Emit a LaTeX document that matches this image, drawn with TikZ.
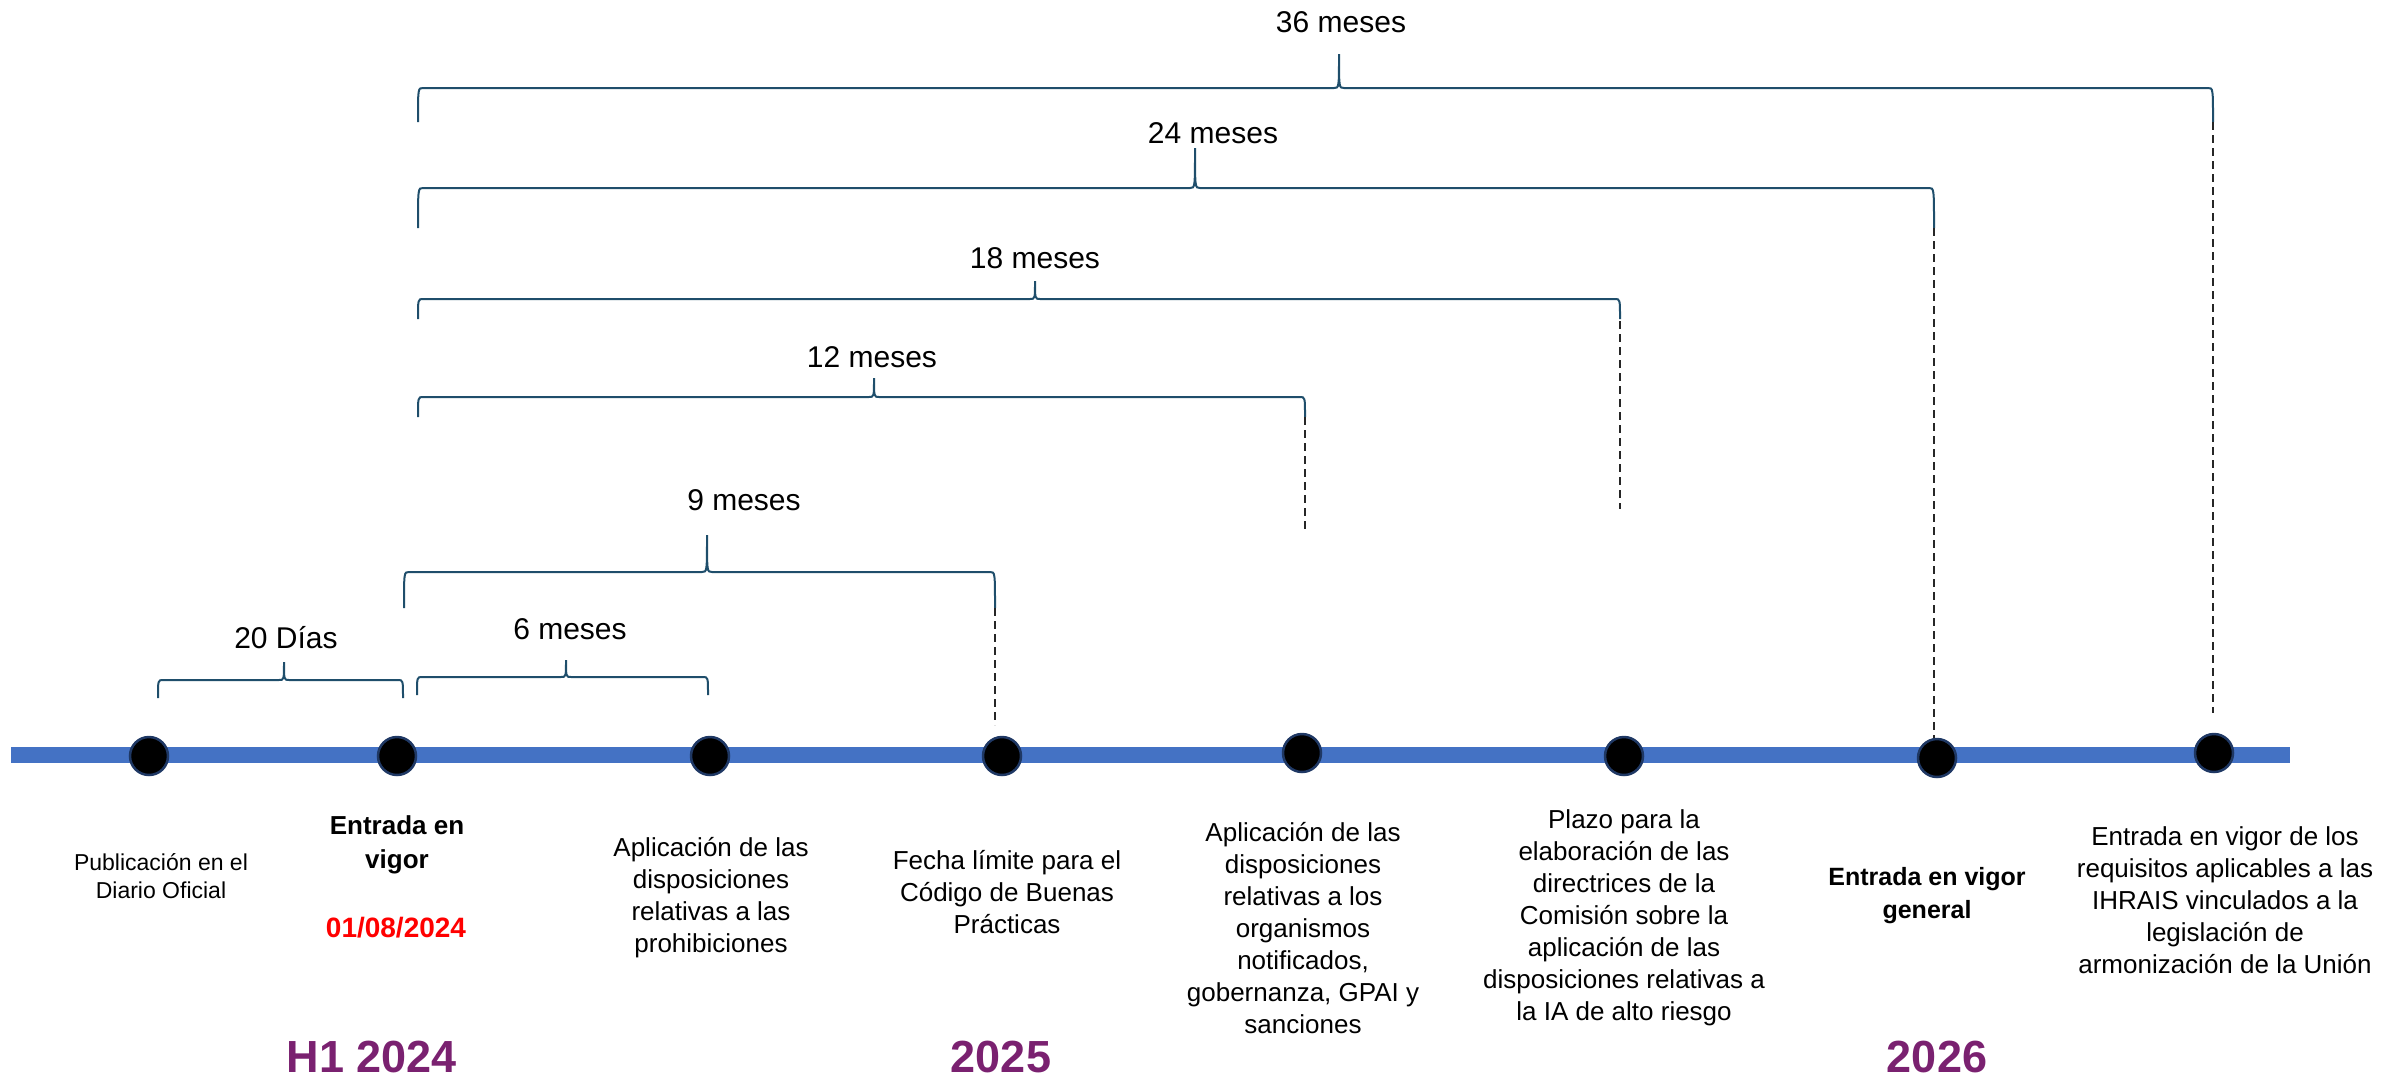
\documentclass[tikz,border=0pt]{standalone}
\usepackage{fontspec}
\setmainfont{Liberation Sans}
\definecolor{barblue}{HTML}{4472C4}
\definecolor{dotrim}{HTML}{1F3864}
\definecolor{brcol}{HTML}{1F4E6B}
\definecolor{yearpurple}{HTML}{7A2170}
\definecolor{datered}{HTML}{FF0000}
\newcommand\tlbrace[6]{% x1, x2, xtip, yh, ybottom, ytop
  \draw[brc] (#1,#5) .. controls (#1,#4) and (#1,#4) .. ({#1+5},#4) -- ({#3-5},#4)
    .. controls (#3,#4) and (#3,#4) .. (#3,#6)
    .. controls (#3,#4) and (#3,#4) .. ({#3+5},#4) -- ({#2-5},#4)
    .. controls (#2,#4) and (#2,#4) .. (#2,#5);}
\begin{document}
\begin{tikzpicture}[x=1pt,y=-1pt,
  brc/.style={draw=brcol,line width=2pt},
  dsh/.style={draw=black!85,line width=1.5pt,dash pattern=on 8pt off 5pt},
  dotnode/.style={circle,fill=black,draw=dotrim,line width=2.5pt,minimum size=38pt,inner sep=0pt},
  brlabel/.style={inner sep=0pt,font=\fontsize{30}{36}\selectfont},
  desc/.style={inner sep=0pt,align=center,font=\fontsize{26}{32}\selectfont},
  descb/.style={inner sep=0pt,align=center,font=\fontsize{26}{34}\selectfont\bfseries},
  year/.style={inner sep=0pt,text=yearpurple,font=\fontsize{45}{54}\selectfont\bfseries}]
\useasboundingbox (0,0) rectangle (2407,1080);
% timeline bar
\fill[barblue] (11,747) rectangle (2290,763);
% dots
\node[dotnode] (d1) at (149,756) {};
\node[dotnode] (d2) at (397,756) {};
\node[dotnode] (d3) at (710,756) {};
\node[dotnode] (d4) at (1002,756) {};
\node[dotnode] (d5) at (1302,753) {};
\node[dotnode] (d6) at (1624,756) {};
\node[dotnode] (d7) at (1937,758) {};
\node[dotnode] (d8) at (2214,753) {};
% braces
\tlbrace{158}{403}{284}{680}{698}{662}
\tlbrace{417}{708}{566}{677}{695}{660}
\tlbrace{404}{995}{707}{572}{608}{535}
\tlbrace{418}{1305}{874}{397}{417}{378}
\tlbrace{418}{1620}{1035}{299}{319}{281}
\tlbrace{418}{1934}{1195}{188}{228}{148}
\tlbrace{418}{2213}{1339}{88}{122}{54}
% brace labels
\node[brlabel] (l20) at (286,638) {20 Días};
\node[brlabel] (l6) at (570,629) {6 meses};
\node[brlabel] (l9) at (744,500) {9 meses};
\node[brlabel] (l12) at (872,357) {12 meses};
\node[brlabel] (l18) at (1035,258) {18 meses};
\node[brlabel] (l24) at (1213,133) {24 meses};
\node[brlabel] (l36) at (1341,22) {36 meses};
% dashed drop lines
\coordinate (c9) at (995,608);
\coordinate (c12) at (1305,417);
\coordinate (c18) at (1620,321);
\coordinate (c24) at (1934,228);
\coordinate (c36) at (2213,122);
\draw[dsh] (c9) -- ++(0,117);
\draw[dsh] (c12) -- ++(0,115);
\draw[dsh] (c18) -- ++(0,188);
\draw[dsh] (c24) -- (c24 |- d7.north);
\draw[dsh] (c36) -- ++(0,591);
% descriptions
\node[inner sep=0pt,align=center,font=\fontsize{23}{28}\selectfont] (t1) at (161,876) {Publicación en el\\Diario Oficial};
\node[descb] (t2) at (397,845) {Entrada en\\vigor};
\node[inner sep=0pt,text=datered,font=\fontsize{28}{34}\selectfont\bfseries] (t2d) at (396,928) {01/08/2024};
\node[desc] (t3) at (711,898) {Aplicación de las\\disposiciones\\relativas a las\\prohibiciones};
\node[desc] (t4) at (1007,892) {Fecha límite para el\\Código de Buenas\\Prácticas};
\node[desc] (t5) at (1303,928) {Aplicación de las\\disposiciones\\relativas a los\\organismos\\notificados,\\gobernanza, GPAI y\\sanciones};
\node[desc] (t6) at (1624,918) {Plazo para la\\elaboración de las\\directrices de la\\Comisión sobre la\\aplicación de las\\disposiciones relativas a\\la IA de alto riesgo};
\node[inner sep=0pt,align=center,font=\fontsize{25}{33}\selectfont\bfseries] (t7) at (1927,896) {Entrada en vigor\\general};
\node[desc] (t8) at (2225,900) {Entrada en vigor de los\\requisitos aplicables a las\\IHRAIS vinculados a la\\legislación de\\armonización de la Unión};
% years
\node[year] (y1) at (372,1057) {H1 2024};
\node[year] (y2) at (1001,1057) {2025};
\node[year] (y3) at (1937,1057) {2026};
\end{tikzpicture}
\end{document}
